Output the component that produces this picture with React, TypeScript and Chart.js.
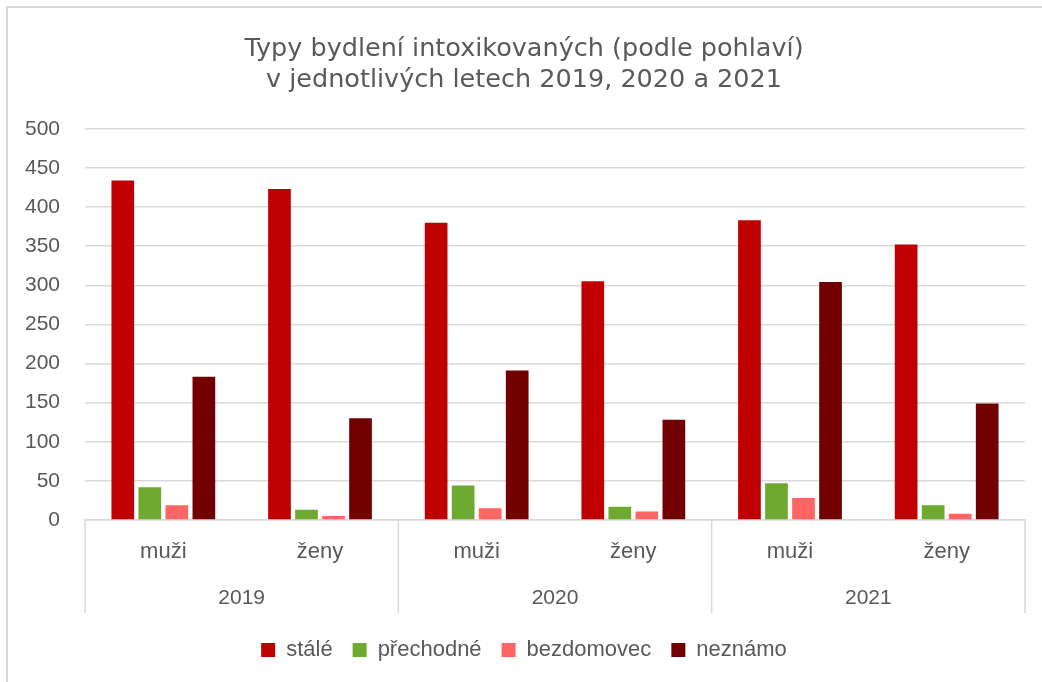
import React, { useEffect, useRef } from "react";
import { Chart, registerables } from "chart.js";

Chart.register(...registerables);

const titleLines = ["Typy bydlení intoxikovaných (podle pohlaví)", "v jednotlivých letech 2019, 2020 a 2021"];
const years = ["2019", "2020", "2021"];
const genders = ["muži", "ženy"];
const seriesNames = ["stálé", "přechodné", "bezdomovec", "neznámo"];
const staleValues = [434, 423, 380, 305, 383, 352];
const prechodneValues = [42, 13, 44, 17, 47, 19];
const bezdomovecValues = [19, 5, 15, 11, 28, 8];
const neznamoValues = [183, 130, 191, 128, 304, 149];
const seriesColors = ["#C00000", "#6DAA2F", "#FF6565", "#730000"];
const yTicks = [0, 50, 100, 150, 200, 250, 300, 350, 400, 450, 500];

const TEXT = "#595959";
const GRID = "#d9d9d9";
const FONT = "'Liberation Sans', Arial, sans-serif";

const groupPlugin = {
  id: "groupPlugin",
  afterDraw(chart: any) {
    const { ctx, chartArea } = chart;
    const x = chart.scales.x;
    const total = years.length * genders.length;
    const sepBottom = chartArea.bottom + 93;
    ctx.save();
    ctx.strokeStyle = GRID;
    ctx.lineWidth = 1.5;
    const bounds: number[] = [];
    for (let i = 0; i <= years.length; i++) {
      const xb = x.left + (x.width * i * genders.length) / total;
      bounds.push(xb);
      ctx.beginPath();
      ctx.moveTo(xb, chartArea.bottom);
      ctx.lineTo(xb, sepBottom);
      ctx.stroke();
    }
    ctx.fillStyle = TEXT;
    ctx.font = `21px ${FONT}`;
    ctx.textAlign = "center";
    ctx.textBaseline = "middle";
    for (let i = 0; i < years.length; i++) {
      ctx.fillText(years[i], (bounds[i] + bounds[i + 1]) / 2, chartArea.bottom + 78);
    }
    ctx.restore();
  },
};

export default function App() {
  const ref = useRef<HTMLCanvasElement | null>(null);
  useEffect(() => {
    if (!ref.current) return;
    const labels = years.flatMap(() => genders);
    const values = [staleValues, prechodneValues, bezdomovecValues, neznamoValues];
    const chart = new Chart(ref.current, {
      type: "bar",
      data: {
        labels,
        datasets: seriesNames.map((name, i) => ({
          label: name,
          data: values[i],
          backgroundColor: seriesColors[i],
          borderWidth: 0,
          categoryPercentage: 0.69,
          barPercentage: 0.84,
        })),
      },
      options: {
        animation: false,
        responsive: false,
        maintainAspectRatio: false,
        layout: { padding: { top: 33, left: 23, right: 17, bottom: 11 } },
        plugins: {
          title: {
            display: true,
            text: titleLines,
            color: TEXT,
            font: { family: "'DejaVu Sans', sans-serif", size: 25.5, weight: "normal", lineHeight: 1.25 },
            padding: { top: 0, bottom: 32 },
          },
          legend: {
            position: "bottom",
            labels: {
              color: TEXT,
              font: { family: FONT, size: 22 },
              boxWidth: 14,
              boxHeight: 14,
              padding: 20,
            },
          },
          tooltip: { enabled: false },
        },
        scales: {
          x: {
            grid: { display: false, drawTicks: false },
            border: { display: true, color: GRID, width: 1.5 },
            ticks: { color: TEXT, font: { family: FONT, size: 22 }, padding: 19, maxRotation: 0, autoSkip: false },
            afterFit: (scale: any) => {
              scale.height = 99;
            },
          },
          y: {
            min: 0,
            max: 500,
            grid: { color: GRID, lineWidth: 1.5, drawTicks: false },
            border: { display: false },
            afterBuildTicks: (scale: any) => {
              scale.ticks = yTicks.map((v) => ({ value: v }));
            },
            ticks: { color: TEXT, font: { family: FONT, size: 21 }, padding: 25 },
            afterFit: (scale: any) => {
              scale.width = 62;
            },
          },
        },
      },
      plugins: [groupPlugin],
    });
    return () => chart.destroy();
  }, []);
  return (
    <>
      <div
        style={{
          position: "fixed",
          left: 6,
          top: 6,
          width: 1200,
          height: 900,
          border: "2px solid #d9d9d9",
          pointerEvents: "none",
        }}
      />
      <canvas
        ref={ref}
        width={1042}
        height={682}
        style={{ position: "fixed", left: 0, top: 0, width: 1042, height: 682 }}
      />
    </>
  );
}
